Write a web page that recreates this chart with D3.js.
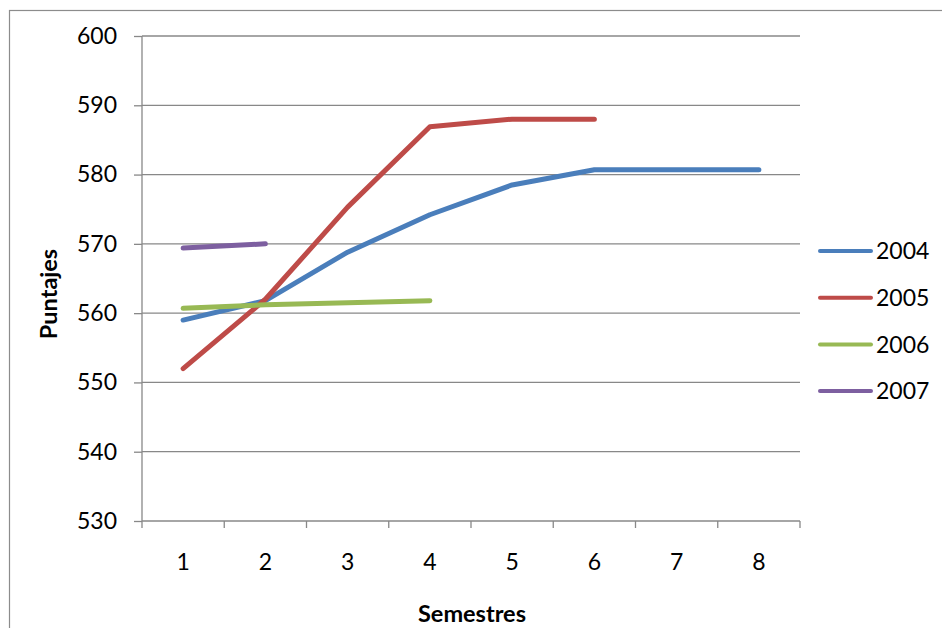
<!DOCTYPE html>
<html><head><meta charset="utf-8">
<script src="https://cdn.jsdelivr.net/npm/d3@7"></script>
<style>body{margin:0;background:#fff}svg{display:block}text{font-family:Lato,"Open Sans",sans-serif;fill:#000}</style>
</head><body>
<svg id="c" width="942" height="628"></svg>
<script>
const categories = ["1","2","3","4","5","6","7","8"];
const s2004 = [559.0, 561.8, 568.8, 574.2, 578.5, 580.7, 580.7, 580.7];
const s2005 = [552.0, 562.0, 575.3, 586.9, 588.0, 588.0];
const s2006 = [560.7, 561.2, 561.5, 561.8];
const s2007 = [569.4, 570.0];
const seriesNames = ["2004","2005","2006","2007"];
const colors = ["#4a7ebb","#be4b48","#98b954","#7d5fa0"];
const yTicks = [530,540,550,560,570,580,590,600];

const series = [s2004, s2005, s2006, s2007];
const svg = d3.select("#c");
const L = 142, R = 800, T = 36, B = 521;
const FS = 23;

svg.append("rect").attr("x",9.5).attr("y",10.5).attr("width",940).attr("height",630)
  .attr("fill","none").attr("stroke","#8c8c8c").attr("stroke-width",1.2);

const x = d3.scaleBand().domain(categories).range([L,R]);
const y = d3.scaleLinear().domain([530,600]).range([B,T]);

// gridlines
svg.append("g").selectAll("line").data(yTicks.filter(d=>d>530)).join("line")
  .attr("x1",L).attr("x2",R).attr("y1",d=>y(d)).attr("y2",d=>y(d))
  .attr("stroke","#888").attr("stroke-width",1.3);

// y axis
const ya = svg.append("g").attr("transform",`translate(${L},0)`)
  .call(d3.axisLeft(y).tickValues(yTicks).tickSize(8).tickPadding(17).tickFormat(d3.format("d")));
ya.select(".domain").attr("stroke","#888").attr("stroke-width",1.3).attr("d",`M0,${T}V${B}`);
ya.selectAll(".tick line").attr("stroke","#888").attr("stroke-width",1.3);
ya.selectAll(".tick text").attr("font-size",FS).attr("font-family","Lato, 'Open Sans', sans-serif").attr("fill","#000");

// x axis
const xa = svg.append("g").attr("transform",`translate(0,${B})`)
  .call(d3.axisBottom(x).tickSize(0).tickPadding(33));
xa.select(".domain").attr("stroke","#888").attr("stroke-width",1.3).attr("d",`M${L},0H${R}`);
xa.selectAll(".tick text").attr("font-size",FS).attr("font-family","Lato, 'Open Sans', sans-serif").attr("fill","#000");
// boundary ticks
const bounds = categories.map(c=>x(c)).concat([x(categories[categories.length-1])+x.bandwidth()]);
svg.append("g").selectAll("line").data(bounds).join("line")
  .attr("x1",d=>d).attr("x2",d=>d).attr("y1",B).attr("y2",B+7)
  .attr("stroke","#888").attr("stroke-width",1.3);

// lines
const line = d3.line().x((d,i)=>x(categories[i])+x.bandwidth()/2).y(d=>y(d));
series.forEach((s,k)=>{
  svg.append("path").datum(s).attr("d",line).attr("fill","none")
    .attr("stroke",colors[k]).attr("stroke-width",5).attr("stroke-linecap","round").attr("stroke-linejoin","round");
});

// legend
const lg = svg.append("g");
seriesNames.forEach((n,k)=>{
  const ly = 251 + k*46.7;
  lg.append("line").attr("x1",820).attr("x2",871).attr("y1",ly).attr("y2",ly)
    .attr("stroke",colors[k]).attr("stroke-width",4).attr("stroke-linecap","round");
  lg.append("text").attr("x",876).attr("y",ly).attr("dy","0.36em").attr("font-size",FS).text(n);
});

// axis titles
svg.append("text").attr("transform","translate(57,294) rotate(-90)").attr("text-anchor","middle")
  .attr("font-size",23.5).attr("font-weight","bold").text("Puntajes");
svg.append("text").attr("x",472).attr("y",622).attr("text-anchor","middle")
  .attr("font-size",23.5).attr("font-weight","bold").text("Semestres");
</script>
</body></html>
